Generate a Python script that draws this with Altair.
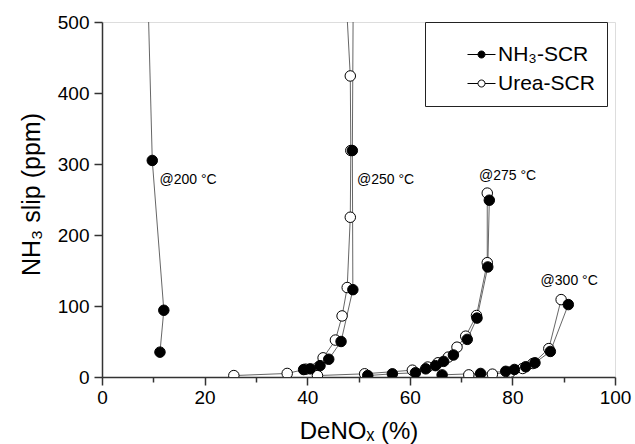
import altair as alt
import pandas as pd

# ---- data ----
series_names = ["NH₃-SCR", "Urea-SCR"]

urea_250_x = [25.7, 36.1, 39.7, 43.1, 45.5, 46.8, 47.8, 48.4, 48.5, 48.4, 46.5]
urea_250_y = [2, 5, 11, 27, 52, 86, 126, 225, 319, 424, 680]

urea_275_x = [42.0, 51.2, 60.5, 63.5, 65.5, 67.5, 69.2, 70.9, 73.0, 75.1, 75.1]
urea_275_y = [2, 4.5, 9.6, 14, 20, 28, 42, 57.5, 86.6, 161, 259]

urea_300_x = [71.5, 76.1, 79.6, 82.0, 84.0, 87.1, 89.5]
urea_300_y = [3, 4, 7, 12, 19, 40, 109]

nh3_200_x = [8.0, 9.8, 12.05, 11.3]
nh3_200_y = [800, 305, 94, 35]

nh3_250_x = [39.3, 40.6, 42.5, 44.2, 46.6, 48.9, 48.8, 49.1]
nh3_250_y = [10.5, 11.5, 16, 25, 50, 123, 319, 700]

nh3_275_x = [51.8, 56.6, 61.1, 63.1, 65.0, 66.6, 68.5, 71.2, 73.1, 75.2, 75.5]
nh3_275_y = [2, 4.5, 6, 11.5, 16, 22, 31, 53, 83, 155, 249]

nh3_300_x = [66.3, 73.8, 78.7, 80.4, 82.6, 84.4, 87.4, 90.9]
nh3_300_y = [3, 5, 8, 10.6, 14.4, 20, 36, 102]

label_text = ["@200 °C", "@250 °C", "@275 °C", "@300 °C"]
label_x = [11.2, 49.7, 73.5, 85.5]
label_y = [278, 278, 283, 135]

x_ticks = [0, 10, 20, 30, 40, 50, 60, 70, 80, 90, 100]
y_ticks = [0, 50, 100, 150, 200, 250, 300, 350, 400, 450, 500]

# ---- build tables ----
rows = []
def add(series, temp, xs, ys):
    for i, (a, b) in enumerate(zip(xs, ys)):
        rows.append({"series": series, "group": f"{series}-{temp}", "idx": i, "x": a, "y": b})

add(series_names[1], 250, urea_250_x, urea_250_y)
add(series_names[1], 275, urea_275_x, urea_275_y)
add(series_names[1], 300, urea_300_x, urea_300_y)
add(series_names[0], 200, nh3_200_x, nh3_200_y)
add(series_names[0], 250, nh3_250_x, nh3_250_y)
add(series_names[0], 275, nh3_275_x, nh3_275_y)
add(series_names[0], 300, nh3_300_x, nh3_300_y)
df = pd.DataFrame(rows)
lab_df = pd.DataFrame({"t": label_text, "x": label_x, "y": label_y})

FONT = "Liberation Sans"

xscale = alt.Scale(domain=[0, 100], nice=False, zero=False)
yscale = alt.Scale(domain=[0, 500], nice=False, zero=False)

xaxis = alt.Axis(
    values=x_ticks, grid=False, title="DeNOₓ (%)",
    labelExpr="datum.value % 20 == 0 ? datum.label : ''",
    tickSize=alt.condition("datum.value % 20 != 0", alt.value(5), alt.value(8)),
    labelFontSize=19, labelFont=FONT, labelColor="black", labelPadding=3,
    labelFlush=False, labelOverlap=False,
    titleFontSize=24, titleFont=FONT, titleFontWeight="normal", titleColor="black",
    titleY=61, titleBaseline="alphabetic",
    domainColor="#333", domainWidth=1.5, tickColor="#333", tickWidth=1.5,
)
yaxis = alt.Axis(
    values=y_ticks, grid=False, title="NH₃ slip (ppm)",
    labelExpr="datum.value % 100 == 0 ? datum.label : ''",
    tickSize=alt.condition("datum.value % 100 != 0", alt.value(5), alt.value(8)),
    labelFontSize=19, labelFont=FONT, labelColor="black", labelPadding=5,
    labelFlush=False, labelOverlap=False,
    titleFontSize=25, titleFont=FONT, titleFontWeight="normal", titleColor="black",
    titleX=-63, titleY=172, titleBaseline="alphabetic",
    domainColor="#333", domainWidth=1.5, tickColor="#333", tickWidth=1.5,
)

lines = alt.Chart(df).mark_line(stroke="#555", strokeWidth=0.9, clip=True).encode(
    x=alt.X("x:Q", scale=xscale, axis=xaxis),
    y=alt.Y("y:Q", scale=yscale, axis=yaxis),
    detail="group:N",
    order="idx:Q",
)

points = alt.Chart(df).mark_point(
    shape="circle", filled=True, size=110, stroke="black", strokeWidth=1,
    opacity=1, fillOpacity=1, clip=True
).encode(
    x=alt.X("x:Q", scale=xscale),
    y=alt.Y("y:Q", scale=yscale),
    fill=alt.Fill(
        "series:N",
        scale=alt.Scale(domain=series_names, range=["black", "white"]),
        legend=alt.Legend(
            title=" ", titleFontSize=2, titlePadding=8,
            orient="none", legendX=323, legendY=0, direction="vertical",
            symbolType="M-4,0H-1M1,0H4M1,0A1,1,0,1,1,-1,0A1,1,0,1,1,1,0Z",
            symbolSize=49, symbolStrokeColor="black", symbolStrokeWidth=1,
            symbolOpacity=1,
            labelFontSize=21, labelFont=FONT, labelColor="black",
            labelExpr="datum.label + '\u00a0'",
            padding=12, rowPadding=7, symbolOffset=34, labelOffset=6,
            strokeColor="#222", fillColor="white", cornerRadius=0,
        ),
    ),
)

labels = alt.Chart(lab_df).mark_text(
    align="left", baseline="middle", fontSize=14, font=FONT, color="black"
).encode(
    x=alt.X("x:Q", scale=xscale),
    y=alt.Y("y:Q", scale=yscale),
    text="t:N",
)

chart = alt.layer(lines, points, labels).properties(
    width=513, height=355,
    autosize=alt.AutoSizeParams(type="none"),
    padding={"left": 102, "top": 22, "right": 20, "bottom": 67},
).configure_view(stroke="#333", strokeWidth=1.5).configure(font=FONT)

chart.save("out.html", embed_options={"renderer": "svg", "actions": False})
